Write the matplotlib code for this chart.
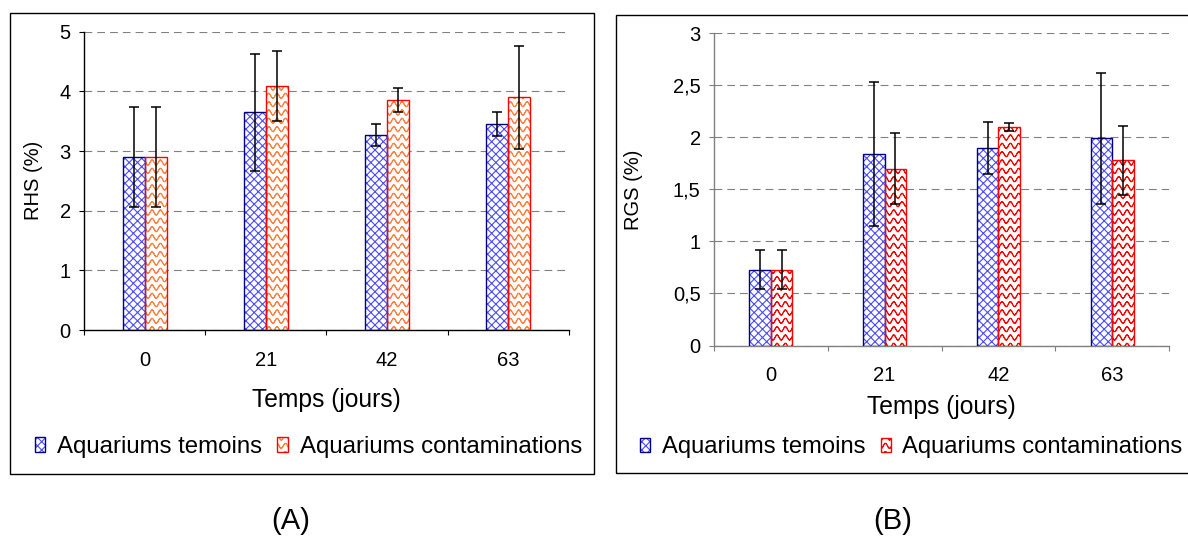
import warnings

import matplotlib

matplotlib.use("Agg")
import matplotlib.hatch as mhatch
import matplotlib.patches as mpatches
import matplotlib.pyplot as plt
import numpy as np
from matplotlib.path import Path

warnings.filterwarnings("ignore")

plt.rcParams["font.family"] = ["Liberation Sans", "DejaVu Sans"]
plt.rcParams["hatch.linewidth"] = 0.8

# data
days = ["0", "21", "42", "63"]
series = ["Aquariums temoins", "Aquariums contaminations"]

rhs_temoins = [2.90, 3.65, 3.27, 3.45]
rhs_temoins_err = [0.84, 0.98, 0.18, 0.20]
rhs_contam = [2.90, 4.09, 3.85, 3.90]
rhs_contam_err = [0.84, 0.58, 0.20, 0.86]

rgs_temoins = [0.73, 1.84, 1.90, 1.99]
rgs_temoins_err = [0.19, 0.69, 0.25, 0.63]
rgs_contam = [0.73, 1.70, 2.10, 1.78]
rgs_contam_err = [0.19, 0.34, 0.04, 0.33]

rhs_ticks = [0, 1, 2, 3, 4, 5]
rhs_ticklabels = ["0", "1", "2", "3", "4", "5"]
rgs_ticks = [0, 0.5, 1, 1.5, 2, 2.5, 3]
rgs_ticklabels = ["0", "0,5", "1", "1,5", "2", "2,5", "3"]


class WaveHatch(mhatch.HatchPatternBase):
    """'w' in a hatch string -> rows of small waves (like the Excel wave fill).

    Agg fills hatch paths as well as stroking them, so every wave is cut into
    separate two-point segments to keep the fill empty.
    """

    def __init__(self, hatch, density):
        self.num_rows = int(hatch.count("w") * density)
        self.pts = self.num_rows * 10 + 1
        self.num_vertices = self.num_rows * (self.pts - 1) * 2

    def set_vertices_and_codes(self, vertices, codes):
        if not self.num_rows:
            return
        xs = np.linspace(0.0, 1.0, self.pts)
        n_seg = self.pts - 1
        for j in range(self.num_rows):
            y0 = (j + 0.5) / self.num_rows
            ys = y0 + 0.3 / self.num_rows * np.sin(2 * np.pi * self.num_rows * xs)
            base = j * n_seg * 2
            vertices[base:base + 2 * n_seg:2, 0] = xs[:-1]
            vertices[base:base + 2 * n_seg:2, 1] = ys[:-1]
            vertices[base + 1:base + 2 * n_seg:2, 0] = xs[1:]
            vertices[base + 1:base + 2 * n_seg:2, 1] = ys[1:]
            codes[base:base + 2 * n_seg:2] = Path.MOVETO
            codes[base + 1:base + 2 * n_seg:2] = Path.LINETO


mhatch._hatch_types.append(WaveHatch)


def draw_panel(ax, temoins, temoins_err, contam, contam_err, ticks, ticklabels,
               ylabel, width, wave_color, axis_color, xlabel_y, ylabel_x):
    x = np.arange(len(days))
    h1 = ax.bar(x - width / 2, temoins, width, color="white", edgecolor="#4b4bff",
                hatch="xxxx", linewidth=0, zorder=2)
    o1 = ax.bar(x - width / 2, temoins, width, fill=False, edgecolor="#000080",
                linewidth=1.0, zorder=3)
    h2 = ax.bar(x + width / 2, contam, width, color="white", edgecolor=wave_color,
                hatch="ww", linewidth=0, zorder=2)
    o2 = ax.bar(x + width / 2, contam, width, fill=False, edgecolor="#ff0000",
                linewidth=1.0, zorder=3)
    ax.errorbar(x - width / 2, temoins, yerr=temoins_err, fmt="none", ecolor="black",
                elinewidth=1.1, capsize=3.5, capthick=1.1, zorder=4)
    ax.errorbar(x + width / 2, contam, yerr=contam_err, fmt="none", ecolor="black",
                elinewidth=1.1, capsize=3.5, capthick=1.1, zorder=4)

    ax.set_xlim(-0.5, len(days) - 0.5)
    ax.set_ylim(ticks[0], ticks[-1])
    ax.set_yticks(ticks)
    ax.set_yticklabels(ticklabels, fontsize=14.5)
    ax.set_xticks(np.arange(len(days) + 1) - 0.5)
    ax.set_xticklabels([])
    ax.set_xticks(x, minor=True)
    ax.set_xticklabels(days, minor=True, fontsize=14.5)
    ax.tick_params(axis="x", which="major", direction="out", length=3.6, color=axis_color)
    ax.tick_params(axis="x", which="minor", length=0, pad=15)
    ax.tick_params(axis="y", direction="out", length=3.6, pad=6, color=axis_color)

    ax.grid(axis="y", color="#808080", linewidth=0.8, linestyle=(0, (7, 4.5)))
    ax.set_axisbelow(True)
    for side in ["top", "right"]:
        ax.spines[side].set_visible(False)
    for side in ["left", "bottom"]:
        ax.spines[side].set_color(axis_color)
        ax.spines[side].set_linewidth(1.0)

    ax.set_xlabel("Temps (jours)", fontsize=17.7)
    ax.xaxis.set_label_coords(0.5, xlabel_y)
    ax.xaxis.label.set_va("center")
    ax.set_ylabel(ylabel, fontsize=14.5)
    ax.yaxis.set_label_coords(ylabel_x, 0.5)
    ax.yaxis.label.set_va("center")
    return [(h1[0], o1[0]), (h2[0], o2[0])]


fig = plt.figure(figsize=(11.88, 5.38), dpi=100)
W, H = 1188.0, 538.0

# frames around each panel
fig.add_artist(mpatches.Rectangle((10 / W, 1 - 474 / H), 584 / W, 461 / H,
                                  transform=fig.transFigure, fill=False,
                                  edgecolor="black", linewidth=1.0))
fig.add_artist(mpatches.Rectangle((615.5 / W, 1 - 473 / H), 600 / W, 458 / H,
                                  transform=fig.transFigure, fill=False,
                                  edgecolor="black", linewidth=1.0))

ax_a = fig.add_axes([84 / W, 1 - 330 / H, 484.7 / W, 298.3 / H])
ax_b = fig.add_axes([714 / W, 1 - 345.5 / H, 455 / W, 312.2 / H])

handles_a = draw_panel(ax_a, rhs_temoins, rhs_temoins_err, rhs_contam, rhs_contam_err,
                       rhs_ticks, rhs_ticklabels, "RHS (%)", 0.1815, "#ff8040", "black",
                       -0.235, -0.105)
handles_b = draw_panel(ax_b, rgs_temoins, rgs_temoins_err, rgs_contam, rgs_contam_err,
                       rgs_ticks, rgs_ticklabels, "RGS (%)", 0.19, "#ff0000", "#808080",
                       -0.197, -0.176)

legend_kw = dict(ncol=2, frameon=False, borderpad=0, borderaxespad=0,
                 handlelength=0.42, handleheight=0.54, handletextpad=0.5,
                 columnspacing=0.64, loc="center left")
fig.legend(handles_a, series, bbox_to_anchor=(35 / W, 1 - 447 / H), fontsize=17.3,
           **legend_kw)
fig.legend(handles_b, series, bbox_to_anchor=(640 / W, 1 - 447 / H), fontsize=17.1,
           **legend_kw)

fig.text(291 / W, 1 - 521 / H, "(A)", fontsize=21, ha="center", va="center")
fig.text(893 / W, 1 - 521 / H, "(B)", fontsize=21, ha="center", va="center")

fig.savefig("out.png", dpi=100)
